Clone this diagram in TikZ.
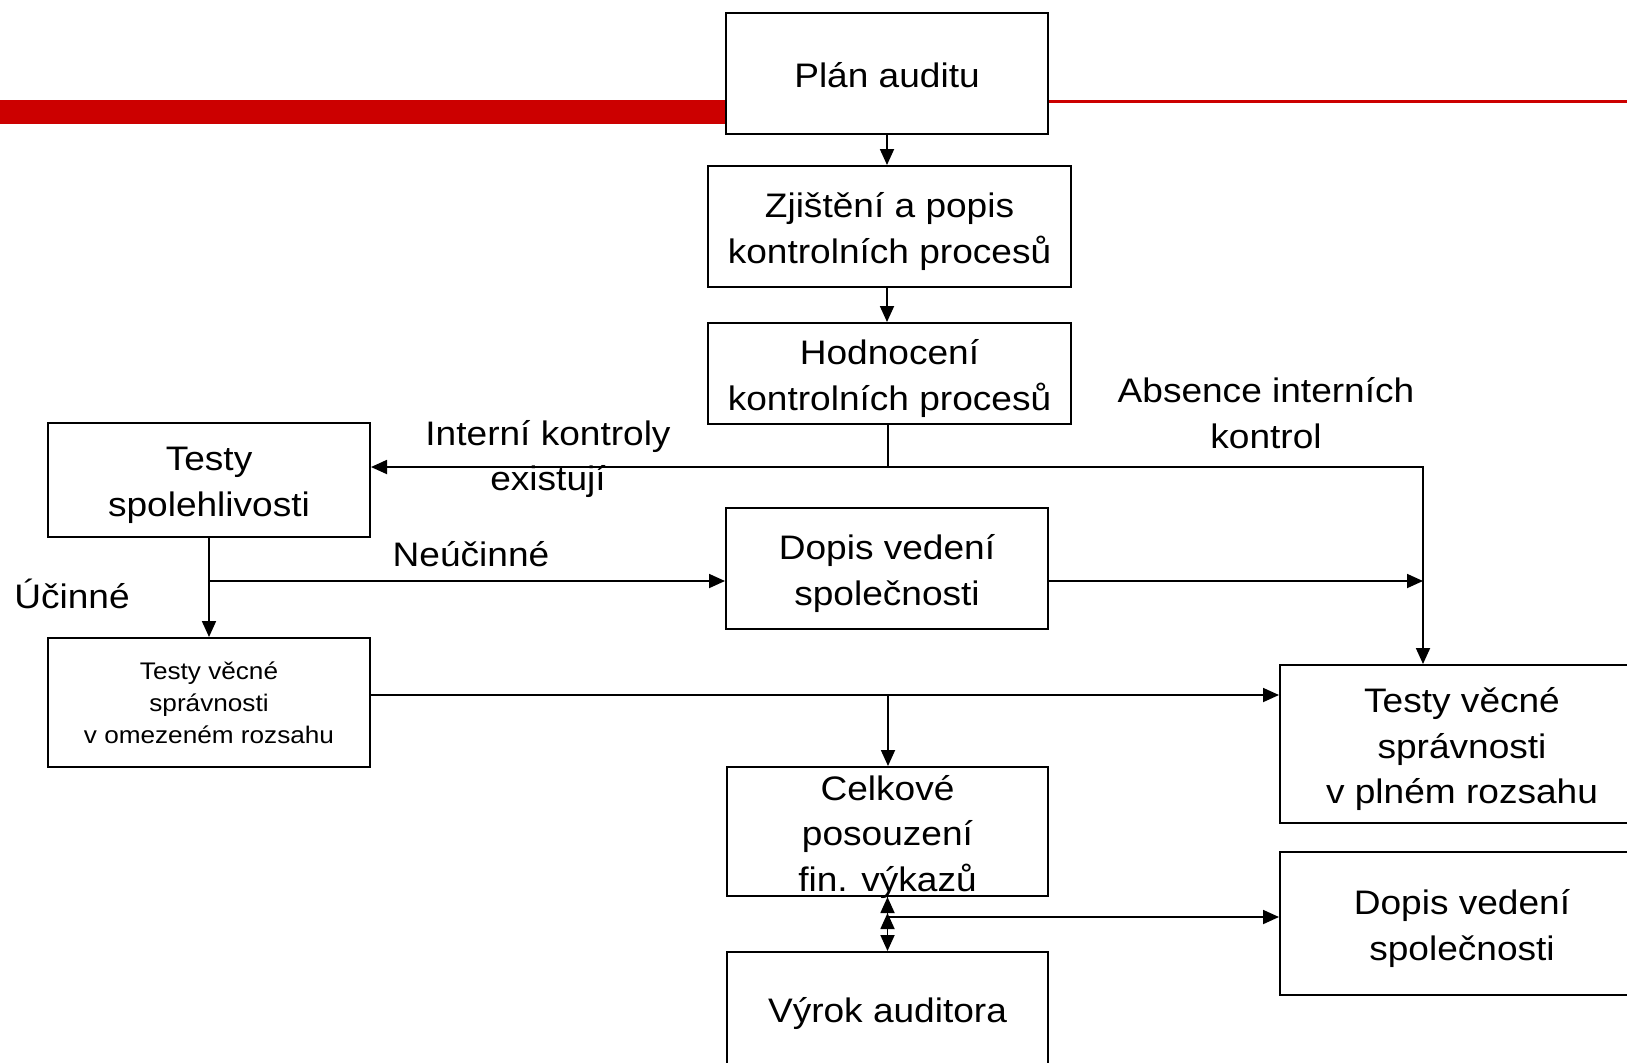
\documentclass[tikz,border=0pt]{standalone}
\usepackage{fontspec}
\setmainfont{Liberation Sans}[FakeStretch=1.09]
\usetikzlibrary{arrows.meta}
\definecolor{bandred}{HTML}{CC0000}

\tikzset{
  box/.style={draw, line width=1pt, fill=white, inner sep=0pt},
  boxtext/.style={align=center, yshift=-2.6pt, font=\fontsize{17}{22.8}\selectfont},
  smalltext/.style={align=center, font=\fontsize{12}{16}\selectfont},
  note/.style={align=center, font=\fontsize{17}{22.8}\selectfont},
  >={Triangle[length=8pt,width=7pt]}
}

\begin{document}
\begin{tikzpicture}[x=0.5pt,y=-0.5pt,line width=0.9pt]
        \useasboundingbox (0,0) rectangle (1627,1062);
        % red band behind the first box
        \fill [bandred] (0,100) rectangle (726,124);
        \fill [bandred] (1048,100) rectangle (1627,103);

        \node[box, minimum width=161pt, minimum height=60.5pt,
          label={[boxtext,yshift=1.6pt]center:Plán auditu}] (plan) at (887,73.5) {};
        \node[box, minimum width=181.5pt, minimum height=60.5pt,
          label={[boxtext]center:Zjištění a popis\\kontrolních procesů}] (zjisteni) at (889.5,226.5) {};
        \node[box, minimum width=181.5pt, minimum height=50.5pt,
          label={[boxtext]center:Hodnocení\\kontrolních procesů}] (hodnoceni) at (889.5,373.5) {};
        \node[box, minimum width=161pt, minimum height=57pt,
          label={[boxtext]center:Testy\\spolehlivosti}] (spolehlivost) at (209,480) {};
        \node[box, minimum width=161pt, minimum height=60.5pt,
          label={[boxtext]center:Dopis vedení\\společnosti}] (dopisA) at (887,568.5) {};
        \node[box, minimum width=161pt, minimum height=64.5pt,
          label={[smalltext]center:Testy věcné\\správnosti\\v omezeném rozsahu}] (omezeny) at (209,702.5) {};
        \node[box, minimum width=182pt, minimum height=79pt,
          label={[boxtext]center:Testy věcné\\správnosti\\v plném rozsahu}] (plny) at (1462,744) {};
        \node[box, minimum width=160.5pt, minimum height=64.5pt,
          label={[boxtext]center:Celkové\\posouzení\\fin. výkazů}] (celkove) at (887.5,831.5) {};
        \node[box, minimum width=182pt, minimum height=71.5pt,
          label={[boxtext]center:Dopis vedení\\společnosti}] (dopisB) at (1462,923.5) {};
        \node[box, minimum width=160.5pt, minimum height=56pt,
          label={[boxtext]center:Výrok auditora}] (vyrok) at (887.5,1008) {};

        \node[note] (existuji) at (548,459) {Interní kontroly\\existují};
        \node[note] (absence) at (1266,413) {Absence interních\\kontrol};
        \node[note] (neucinne) at (471,554) {Neúčinné};
        \node[note] (ucinne) at (72,594) {Účinné};

        \coordinate (split) at (888,467);
        \coordinate (corner) at (1423,467);
        \coordinate (branch) at (209,581);
        \coordinate (mid) at (888,695);
        \coordinate (foot) at (887.5,917);

        \draw[->] (plan.south) -- (plan.south |- zjisteni.north);
        \draw[->] (plan.south |- zjisteni.south) -- (plan.south |- hodnoceni.north);
        \draw (split |- hodnoceni.south) -- (split);
        \draw[->] (split) -- (split -| spolehlivost.east);
        \draw[->] (split) -- (corner) -- (corner |- plny.north);
        \draw[->] (spolehlivost.south) -- (omezeny.north);
        \draw[->] (branch) -- (branch -| dopisA.west);
        \draw[->] (branch -| dopisA.east) -- (branch -| corner);
        \draw[->] (mid -| omezeny.east) -- (mid -| plny.west);
        \draw[->] (mid) -- (mid |- celkove.north);
        \draw[->] (celkove.south) -- (vyrok.north);
        \draw[->>] (foot) -- (celkove.south);
        \draw[->] (foot) -- (foot -| dopisB.west);
      \end{tikzpicture}
\end{document}
